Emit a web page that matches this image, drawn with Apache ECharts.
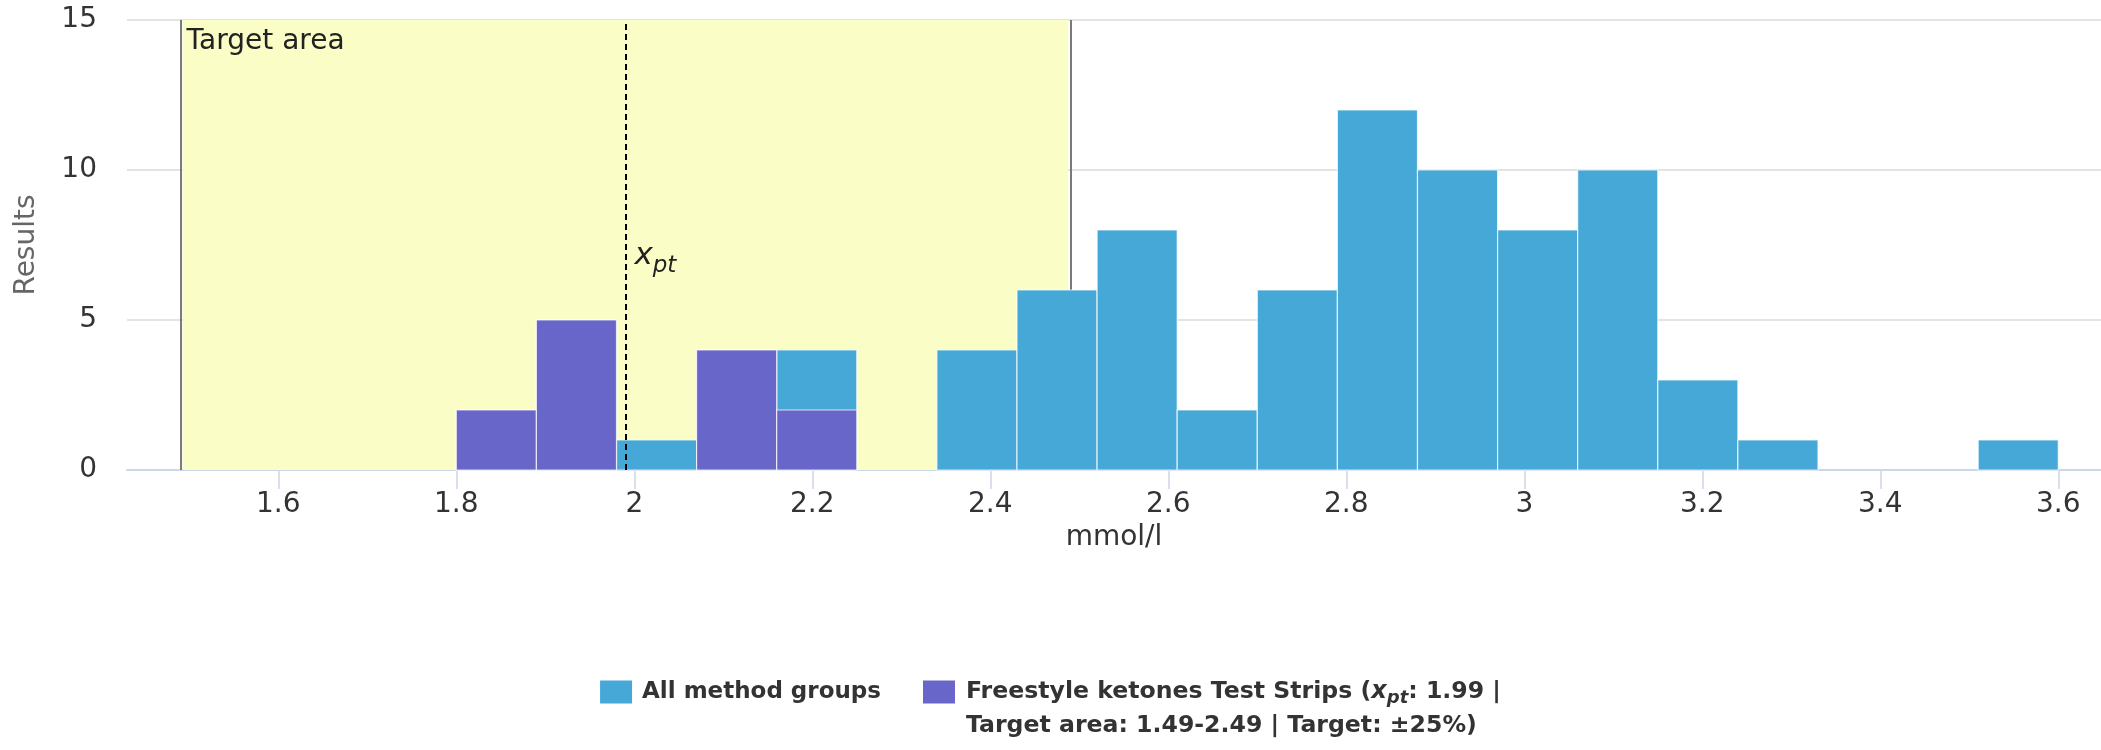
<!DOCTYPE html>
<html>
<head>
<meta charset="utf-8">
<script src="https://cdn.jsdelivr.net/npm/echarts@6/dist/echarts.min.js"></script>
<style>
  html, body { margin: 0; padding: 0; background: #ffffff; }
  #chart { width: 2101px; height: 750px; }
</style>
</head>
<body>
<div id="chart"></div>
<script>
// ---- data ----
const binStarts = [1.80, 1.89, 1.98, 2.07, 2.16, 2.25, 2.34, 2.43, 2.52, 2.61, 2.70, 2.79, 2.88, 2.97, 3.06, 3.15, 3.24, 3.33, 3.42, 3.51];
const binWidth = 0.09;
const allCounts    = [2, 5, 1, 4, 4, 0, 4, 6, 8, 2, 6, 12, 10, 8, 10, 3, 1, 0, 0, 1];
const methodCounts = [2, 5, 0, 4, 2, 0, 0, 0, 0, 0, 0, 0,  0, 0, 0,  0, 0, 0, 0, 0];
const xTickValues = [1.6, 1.8, 2.0, 2.2, 2.4, 2.6, 2.8, 3.0, 3.2, 3.4, 3.6];
const xpt = 1.99;
const targetLow = 1.4925;
const targetHigh = 2.4875;
const seriesNames = ['All method groups', 'Freestyle ketones Test Strips'];

function toBins(counts) {
  const out = [];
  binStarts.forEach((s, i) => {
    if (counts[i] > 0) out.push([s, +(s + binWidth).toFixed(4), counts[i]]);
  });
  return out;
}

function renderBar(params, api) {
  const p0 = api.coord([api.value(0), api.value(2)]);
  const p1 = api.coord([api.value(1), 0]);
  return {
    type: 'rect',
    shape: { x: p0[0], y: p0[1], width: p1[0] - p0[0], height: p1[1] - p0[1] },
    style: { fill: api.visual('color'), stroke: 'rgba(255,255,255,0.75)', lineWidth: 1.2 }
  };
}

const FONT = 'DejaVu Sans';
const chart = echarts.init(document.getElementById('chart'), null, { renderer: 'canvas' });

const option = {
  animation: false,
  backgroundColor: '#ffffff',
  textStyle: { fontFamily: FONT },
  grid: { left: 127, right: 0, top: 20, bottom: 280, containLabel: false },
  legend: {
    left: 'center',
    top: 641,
    padding: 0,
    itemGap: 42,
    itemWidth: 32,
    itemHeight: 23,
    icon: 'rect',
    selectedMode: false,
    data: [
      { name: seriesNames[0], textStyle: { padding: [0, 0, 0, 5] } },
      { name: seriesNames[1], textStyle: { padding: [34, 0, 0, 6], fontSize: 23.6 } }
    ],
    formatter: function (name) {
      if (name === seriesNames[1]) {
        return name + ' ({i|x}{s|pt}: ' + xpt + ' |\nTarget area: 1.49-2.49 | Target: ±25%)';
      }
      return name;
    },
    textStyle: {
      fontFamily: FONT,
      fontSize: 23,
      fontWeight: 'bold',
      color: '#333333',
      lineHeight: 34,
      rich: {
        i: { fontFamily: FONT, fontSize: 24, fontStyle: 'italic', fontWeight: 'bold', color: '#333333', lineHeight: 34 },
        s: { fontFamily: FONT, fontSize: 18, fontStyle: 'italic', fontWeight: 'bold', color: '#333333', lineHeight: 22, padding: [12, 0, 0, 0] }
      }
    }
  },
  xAxis: {
    type: 'value',
    min: 1.43,
    max: 3.648,
    name: 'mmol/l',
    nameLocation: 'middle',
    nameGap: 47,
    nameTextStyle: { fontFamily: FONT, fontSize: 28, color: '#333333' },
    axisLine: { show: true, onZero: false, lineStyle: { color: '#ccd6eb', width: 2 } },
    axisTick: { show: true, customValues: xTickValues, length: 19, lineStyle: { color: '#ccd6eb', width: 1.5 } },
    axisLabel: {
      customValues: xTickValues,
      margin: 21,
      fontFamily: FONT,
      fontSize: 28,
      color: '#333333',
      formatter: function (v) { return String(Math.round(v * 10) / 10); }
    },
    splitLine: { show: false }
  },
  yAxis: {
    type: 'value',
    min: 0,
    max: 15,
    interval: 5,
    name: 'Results',
    nameLocation: 'middle',
    nameGap: 86,
    nameTextStyle: { fontFamily: FONT, fontSize: 28, color: '#666666' },
    axisLine: { show: false },
    axisTick: { show: false },
    axisLabel: { margin: 30, fontFamily: FONT, fontSize: 28, color: '#333333' },
    splitLine: { show: true, lineStyle: { color: '#e3e3e3', width: 2 } }
  },
  series: [
    {
      name: 'target band',
      type: 'line',
      data: [],
      z: 1,
      silent: true,
      markArea: {
        silent: true,
        z: 1,
        itemStyle: { color: '#fafdc5' },
        label: {
          show: true,
          position: 'insideTopLeft',
          distance: 0,
          offset: [4, 8],
          fontFamily: FONT,
          fontSize: 28,
          color: '#222222'
        },
        data: [[{ name: 'Target area', xAxis: targetLow }, { xAxis: targetHigh }]]
      },
      markLine: {
        silent: true,
        z: 1,
        symbol: ['none', 'none'],
        label: { show: false },
        lineStyle: { color: '#7a7a7a', width: 2, type: 'solid' },
        data: [{ xAxis: targetLow }, { xAxis: targetHigh }]
      }
    },
    {
      name: seriesNames[0],
      type: 'custom',
      z: 2,
      itemStyle: { color: '#45a8d6' },
      renderItem: renderBar,
      encode: { x: [0, 1], y: 2 },
      data: toBins(allCounts)
    },
    {
      name: seriesNames[1],
      type: 'custom',
      z: 3,
      itemStyle: { color: '#6966c9' },
      renderItem: renderBar,
      encode: { x: [0, 1], y: 2 },
      data: toBins(methodCounts)
    },
    {
      name: 'xpt',
      type: 'line',
      data: [],
      z: 6,
      silent: true,
      markLine: {
        silent: true,
        z: 6,
        symbol: ['none', 'none'],
        label: { show: false },
        lineStyle: { color: '#000000', width: 2, type: [6, 4] },
        data: [{ xAxis: xpt }]
      },
      markPoint: {
        silent: true,
        z: 6,
        symbol: 'circle',
        symbolSize: 0,
        label: {
          show: true,
          position: 'right',
          distance: 9,
          formatter: '{i|x}{s|pt}',
          rich: {
            i: { fontFamily: FONT, fontSize: 31, fontStyle: 'italic', color: '#222222', lineHeight: 30, verticalAlign: 'top' },
            s: { fontFamily: FONT, fontSize: 23, fontStyle: 'italic', color: '#222222', lineHeight: 22, padding: [14, 0, 0, 0], verticalAlign: 'top' }
          }
        },
        data: [{ coord: [xpt, 7.15] }]
      }
    }
  ]
};

chart.setOption(option);
</script>
</body>
</html>
